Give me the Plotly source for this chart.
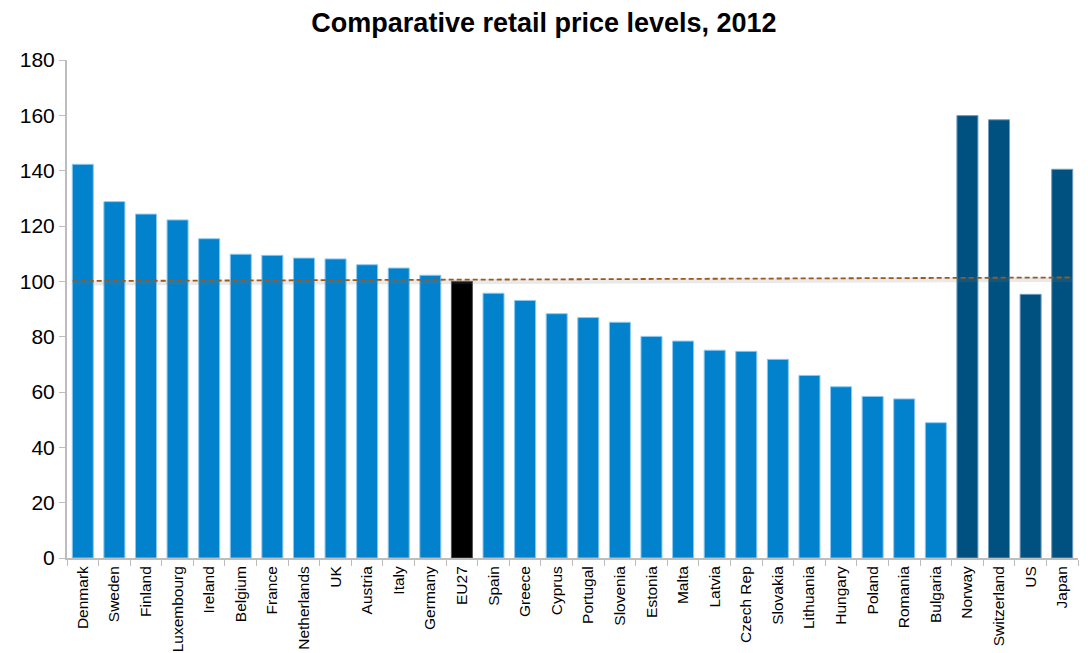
import plotly.graph_objects as go

# Comparative retail price levels, 2012 (EU27 = 100)
countries = ["Denmark", "Sweden", "Finland", "Luxembourg", "Ireland", "Belgium",
             "France", "Netherlands", "UK", "Austria", "Italy", "Germany", "EU27",
             "Spain", "Greece", "Cyprus", "Portugal", "Slovenia", "Estonia", "Malta",
             "Latvia", "Czech Rep", "Slovakia", "Lithuania", "Hungary", "Poland",
             "Romania", "Bulgaria", "Norway", "Switzerland", "US", "Japan"]
price_levels = [142.3, 128.8, 124.3, 122.2, 115.4, 109.8, 109.4, 108.4, 108.1, 106.0,
                104.8, 102.2, 100.0, 95.7, 93.1, 88.3, 86.9, 85.2, 80.1, 78.4,
                75.1, 74.7, 71.8, 66.0, 61.9, 58.4, 57.5, 48.9, 159.9, 158.4, 95.3, 140.5]
groups = ["eu"] * 12 + ["avg"] + ["eu"] * 15 + ["other"] * 4

# Dashed trend line across the chart (start / end values)
trend_values = [100.1, 101.4]

y_ticks = [0, 20, 40, 60, 80, 100, 120, 140, 160, 180]

group_colors = {"eu": "#0281CC", "avg": "#000000", "other": "#00517F"}
edge_colors = {"eu": "#8CC8F0", "avg": "#555555", "other": "#6F9EC2"}

fig = go.Figure()
fig.add_trace(go.Bar(
    x=countries,
    y=price_levels,
    marker=dict(color=[group_colors[g] for g in groups],
                line=dict(color=[edge_colors[g] for g in groups], width=1)),
    hoverinfo="x+y",
))

# trend line endpoints in category-index units
x_start, x_end = -0.32, len(countries) - 1 + 0.32

# soft shadow under the trend line
fig.add_shape(type="line", xref="x", yref="y",
              x0=x_start, x1=x_end, y0=trend_values[0] - 0.7, y1=trend_values[1] - 0.7,
              line=dict(color="rgba(120,120,120,0.16)", width=5), layer="above")
fig.add_shape(type="line", xref="x", yref="y",
              x0=x_start, x1=x_end, y0=trend_values[0], y1=trend_values[1],
              line=dict(color="#9A5A1E", width=1.8, dash="5px,3px"), layer="above")

fig.update_layout(
    width=1088, height=653,
    margin=dict(l=67, r=10, t=60, b=95),
    paper_bgcolor="white", plot_bgcolor="white",
    showlegend=False,
    bargap=0.335,
    font=dict(family="Liberation Sans, Arial, sans-serif", color="#000000"),
    title=dict(text="<b>Comparative retail price levels, 2012</b>",
               x=0.5, xanchor="center", y=0.965, yanchor="middle",
               font=dict(size=27, color="#000000")),
)
fig.update_xaxes(
    type="category",
    range=[-0.5, len(countries) - 0.5],
    tickangle=-90,
    tickfont=dict(size=15.5),
    automargin=False,
    showline=True, linecolor="#BDBDBD", linewidth=2,
    ticks="outside", tickson="boundaries", ticklen=6, tickcolor="#BDBDBD", tickwidth=1,
    showgrid=False,
)
fig.update_yaxes(
    range=[0, 180],
    tickvals=y_ticks,
    tickfont=dict(size=21),
    automargin=False,
    showline=True, linecolor="#BDBDBD", linewidth=2,
    ticks="outside", ticklen=6, tickcolor="#BDBDBD", tickwidth=1,
    showgrid=False, zeroline=False,
)

fig.write_html("out.html")
